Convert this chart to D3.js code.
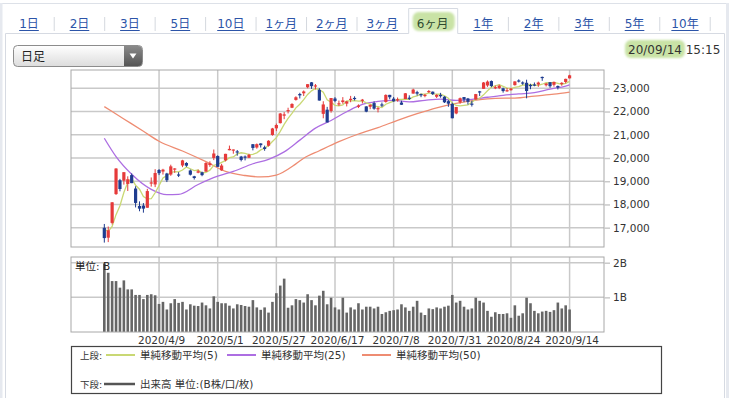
<!DOCTYPE html>
<html>
<head>
<meta charset="utf-8">
<script src="https://cdn.jsdelivr.net/npm/d3@7"></script>
<style>
body { margin: 0; background: #fff; }
svg { display: block; }
</style>
</head>
<body>
<div id="chart"></div>
<script>
const tabLabels = ["1日","2日","3日","5日","10日","1ヶ月","2ヶ月","3ヶ月","6ヶ月","1年","2年","3年","5年","10年"]
const selectedTab = "6ヶ月"
const stamp = "20/09/14"
const stampTime = " 15:15"

const dates = ["3/19","3/23","3/24","3/25","3/26","3/27","3/30","3/31",
"4/1","4/2","4/3","4/6","4/7","4/8","4/9","4/10","4/13","4/14","4/15","4/16","4/17","4/20","4/21","4/22","4/23","4/24","4/27","4/28","4/30",
"5/1","5/7","5/8","5/11","5/12","5/13","5/14","5/15","5/18","5/19","5/20","5/21","5/22","5/25","5/26","5/27","5/28","5/29",
"6/1","6/2","6/3","6/4","6/5","6/8","6/9","6/10","6/11","6/12","6/15","6/16","6/17","6/18","6/19","6/22","6/23","6/24","6/25","6/26","6/29","6/30",
"7/1","7/2","7/3","7/6","7/7","7/8","7/9","7/10","7/13","7/14","7/15","7/16","7/17","7/20","7/21","7/22","7/27","7/28","7/29","7/30","7/31",
"8/3","8/4","8/5","8/6","8/7","8/11","8/12","8/13","8/14","8/17","8/18","8/19","8/20","8/21","8/24","8/25","8/26","8/27","8/28","8/31",
"9/1","9/2","9/3","9/4","9/7","9/8","9/9","9/10","9/11","9/14"]

const open = [16995,16570,17206,18446,19044,19021,18884,19264,18686,17935,
17951,17858,18938,18861,19483,19416,19332,19287,19527,19291,
19677,19785,19464,19213,19367,19384,19412,19696,20002,20087,
19468,19897,20333,20314,20285,20061,20064,20009,20593,20451,
20627,20460,20528,20990,21277,21500,21821,22024,22163,22500,
22754,22785,23044,23258,23100,22933,21900,22080,22023,22560,
22344,22408,22339,22534,22587,22200,22485,22221,22206,22364,
22132,22307,22413,22718,22555,22511,22388,22537,22596,22773,
22834,22752,22665,22881,22855,22635,22715,22639,22447,22330,
21917,22396,22623,22563,22342,22514,22869,22977,23121,23312,
23049,23013,22999,22918,22918,23136,23339,23253,23238,23142,
23166,23161,23490,23132,23263,23150,23099,23184,23273,23428]

const high = [17160,17050,18100,19564,19100,19389,19211,19336,18784,18132,
18059,18672,19162,19518,19525,19534,19360,19711,19560,19389,
19922,19820,19504,19232,19500,19412,19818,19857,20365,20115,
19749,20179,20534,20366,20344,20090,20108,20183,20600,20625,
20632,20532,20765,21296,21481,21938,21976,22164,22357,22657,
22807,22907,23178,23270,23185,23008,22443,22200,22582,22620,
22472,22620,22451,22674,22655,22310,22541,22227,22305,22437,
22198,22387,22741,22719,22627,22603,22466,22796,22698,22983,
22893,22769,22766,22928,22863,22745,22804,22661,22494,22380,
22201,22603,22624,22584,22465,22758,22888,23272,23338,23338,
23120,23156,23026,23014,23014,23300,23386,23298,23370,23192,
23250,23287,23505,23226,23263,23288,23121,23262,23414,23582]

const low = [16358,16378,17140,18410,18565,18853,18578,18917,17872,17707,
17646,17858,18768,18746,19263,19287,18963,19233,19361,19180,
19606,19617,19247,19072,19343,19215,19412,19619,19908,19619,
19448,19855,20333,20184,20099,19853,19897,19996,20328,20400,
20450,20311,20491,20959,21158,21486,21670,21919,22148,22470,
22563,22667,23000,22975,22951,22472,21709,21530,21951,22404,
22239,22334,22220,22400,22477,22150,22350,21970,22100,22078,
21963,22196,22381,22528,22420,22427,22285,22537,22500,22772,
22686,22618,22613,22803,22712,22583,22595,22366,22203,21710,
21883,22339,22404,22300,22215,22514,22670,22977,23061,23049,
22964,22965,22812,22847,22901,23118,23251,23150,22569,22960,
23088,23063,23322,23079,23023,23072,22950,23109,23212,23427]

const close = [16552,16887,18092,19546,18665,19389,19085,18917,18065,17819,
17820,18576,18950,19353,19346,19499,19043,19639,19550,19290,
19897,19669,19281,19138,19429,19262,19783,19771,20194,19619,
19675,20179,20391,20366,20267,19915,20037,20134,20433,20595,
20552,20388,20742,21271,21419,21916,21878,22062,22326,22614,
22696,22864,23178,23091,23125,22473,22305,21531,22582,22456,
22355,22479,22437,22549,22534,22260,22512,21995,22288,22122,
22146,22306,22714,22615,22439,22529,22291,22785,22587,22946,
22770,22696,22717,22884,22752,22716,22657,22397,22339,21710,
22195,22574,22515,22418,22330,22750,22844,23250,23289,23097,
23051,23111,22881,22920,22986,23297,23291,23209,22883,23140,
23138,23247,23466,23205,23090,23274,23033,23235,23406,23559]

// 出来高 (B)
const volume = [1.98,1.71,1.47,1.47,1.28,1.49,1.23,1.23,1.07,1.07,
0.95,1.07,1.09,1.06,0.81,0.87,0.65,0.83,0.95,0.84,
0.87,0.65,0.80,0.76,0.75,0.85,0.77,0.68,1.03,0.87,
0.83,0.83,0.76,0.68,0.80,0.78,0.75,0.73,0.92,0.71,
0.64,0.71,0.56,0.87,1.12,1.34,1.54,0.70,0.77,0.95,
0.92,0.85,1.09,0.92,0.77,1.05,1.19,0.80,0.99,0.71,
0.65,0.99,0.56,0.71,0.65,0.83,0.65,0.73,0.73,0.68,
0.73,0.52,0.57,0.61,0.63,0.65,0.80,0.71,0.61,0.73,
0.90,0.56,0.49,0.68,0.66,0.71,0.68,0.73,0.76,1.07,
0.85,0.90,0.73,0.65,0.68,0.99,0.90,0.85,0.61,0.44,
0.57,0.52,0.52,0.54,0.41,0.77,0.47,0.54,0.99,0.83,
0.61,0.54,0.59,0.61,0.58,0.63,0.85,0.68,0.77,0.65]

const sma5 = [16944,16836,17054,17561,17948,18516,18955,19120,18824,18655,
18341,18239,18246,18504,18809,19145,19238,19376,19415,19404,
19484,19609,19537,19455,19483,19356,19379,19477,19688,19726,
19808,19888,20012,20046,20176,20224,20195,20144,20157,20223,
20350,20420,20542,20710,20874,21147,21445,21709,21920,22159,
22315,22512,22736,22889,22991,22946,22834,22505,22403,22269,
22246,22281,22462,22455,22471,22452,22458,22370,22318,22235,
22213,22171,22315,22381,22444,22521,22518,22532,22526,22628,
22676,22757,22743,22803,22764,22753,22745,22681,22572,22364,
22260,22243,22267,22282,22406,22517,22571,22718,22893,23046,
23106,23160,23086,23012,22990,23039,23075,23141,23133,23164,
23132,23123,23175,23239,23229,23256,23214,23167,23208,23301]

// [day index, value]
const sma25 = [[0,20850],[3,20060],[7,19300],[12,18650],[16,18420],[19,18433],[24,18860],
[29,19215],[33,19422],[38,19752],[42,19942],[46,20265],[50,20769],[54,21285],[58,21616],
[62,21991],[66,22306],[70,22434],[74,22482],[78,22417],[82,22484],[86,22530],[90,22484],
[94,22521],[98,22615],[102,22699],[106,22759],[110,22811],[114,22967],[118,23097],[119,23146]]

const sma50 = [[0,22210],[5,21680],[10,21150],[14,20720],[20,20300],[26,19840],[31,19420],
[36,19246],[40,19183],[44,19265],[49,19746],[51,19988],[55,20312],[60,20702],[65,21033],
[70,21306],[75,21622],[80,21909],[85,22162],[90,22353],[95,22490],[100,22569],[105,22578],
[110,22667],[115,22747],[119,22834]]

const dateTicks = [14,29,44,59,74,89,104,119]
const priceTicks = [17000,18000,19000,20000,21000,22000,23000]
const volTicks = [1,2]

const legendTop = [
    {label: "単純移動平均(5)", color: "#c9d874", x: 106},
    {label: "単純移動平均(25)", color: "#ad6ee2", x: 227},
    {label: "単純移動平均(50)", color: "#ee8c72", x: 362}
]

const FONT = "'DejaVu Sans', 'Noto Sans CJK JP', sans-serif"
const UP = "#e63a3a", DOWN = "#1f3c8f"

var svg = d3.select("#chart").append("svg")
    .attr("width", 740)
    .attr("height", 398)
    .style("font-family", FONT)

var defs = svg.append("defs")
defs.append("filter").attr("id", "soft")
    .append("feGaussianBlur").attr("stdDeviation", 1.2)
var ddGrad = defs.append("linearGradient").attr("id", "ddGrad")
    .attr("x1", 0).attr("y1", 0).attr("x2", 0).attr("y2", 1)
ddGrad.append("stop").attr("offset", "0%").attr("stop-color", "#ffffff")
ddGrad.append("stop").attr("offset", "100%").attr("stop-color", "#dcdcdc")
var btnGrad = defs.append("linearGradient").attr("id", "btnGrad")
    .attr("x1", 0).attr("y1", 0).attr("x2", 0).attr("y2", 1)
btnGrad.append("stop").attr("offset", "0%").attr("stop-color", "#8a8a8a")
btnGrad.append("stop").attr("offset", "100%").attr("stop-color", "#555")

// outer frame + tab row
svg.append("line").attr("x1", 0).attr("x2", 729).attr("y1", 3.5).attr("y2", 3.5)
    .attr("stroke", "#dde1e8")
svg.append("rect").attr("x", 0).attr("y", 3).attr("width", 2.5).attr("height", 395).attr("fill", "#e6e9ef")
svg.append("rect").attr("x", 726).attr("y", 3).attr("width", 3).attr("height", 395).attr("fill", "#e6e9ef")

const tabX = d3.scalePoint().domain(tabLabels).range([29, 685])
const selX = tabX(selectedTab)

svg.append("path")
    .attr("d", `M5.5,398 V33.5 H${selX - 24} V8.5 H${selX + 25} V33.5 H724.5 V398`)
    .attr("fill", "none")
    .attr("stroke", "#d6dae2")

svg.append("rect")
    .attr("x", selX - 20).attr("y", 12).attr("width", 42).attr("height", 19).attr("rx", 6)
    .attr("fill", "#c9e3a6")
    .attr("filter", "url(#soft)")

var tabs = svg.append("g")
tabLabels.forEach(function(t, k) {
    var sel = t == selectedTab
    var tx = tabs.append("text")
        .attr("x", tabX(t))
        .attr("y", 28)
        .attr("text-anchor", "middle")
        .style("font-size", "12px")
        .attr("fill", sel ? "#2f4a2f" : "#2c54a8")
        .text(t)
    if (!sel) {
        var w = tx.node().getComputedTextLength()
        tabs.append("line")
            .attr("x1", tabX(t) - w / 2).attr("x2", tabX(t) + w / 2)
            .attr("y1", 30.5).attr("y2", 30.5)
            .attr("stroke", "#2c54a8")
    }
    var sx = tabX(t) + tabX.step() / 2
    if (t != selectedTab && tabLabels[k + 1] != selectedTab) {
        tabs.append("line")
            .attr("x1", sx).attr("x2", sx).attr("y1", 17).attr("y2", 31)
            .attr("stroke", "#d4d8de")
    }
})

// dropdown
svg.append("rect")
    .attr("x", 13.5).attr("y", 45.5).attr("width", 129).attr("height", 21).attr("rx", 4)
    .attr("fill", "url(#ddGrad)").attr("stroke", "#8c8c8c")
svg.append("path")
    .attr("d", "M124,46 H138.5 A3.5,3.5 0 0 1 142,49.5 V62.5 A3.5,3.5 0 0 1 138.5,66 H124 Z")
    .attr("fill", "url(#btnGrad)")
svg.append("path")
    .attr("d", "M129.5,53.5 L136.5,53.5 L133,58.5 Z")
    .attr("fill", "#fff")
svg.append("text").attr("x", 21).attr("y", 60.5)
    .style("font-size", "12px").attr("fill", "#222").text("日足")

// time stamp
svg.append("rect")
    .attr("x", 625).attr("y", 40).attr("width", 60).attr("height", 18).attr("rx", 6)
    .attr("fill", "#c9e3a6").attr("filter", "url(#soft)")
svg.append("text").attr("x", 628).attr("y", 53.5)
    .style("font-size", "12px").attr("fill", "#333")
    .text(stamp + stampTime)

// scales
const x = d3.scaleLinear().domain([-8.52, 127.8]).range([71, 604])
const y = d3.scaleLinear().domain([16168, 23788]).range([247, 70])
const yv = d3.scaleLinear().domain([0, 2.165]).range([332, 257])
const idx = d3.range(dates.length)

const GRID = "#c9c9c9", BORDER = "#a8a8a8"

// price panel
var price = svg.append("g")
price.selectAll(".hg").data(priceTicks).join("line")
    .attr("x1", 71).attr("x2", 604)
    .attr("y1", d => y(d)).attr("y2", d => y(d))
    .attr("stroke", GRID).attr("stroke-width", 1.5)
price.selectAll(".vg").data(dateTicks).join("line")
    .attr("x1", d => x(d)).attr("x2", d => x(d))
    .attr("y1", 70).attr("y2", 247)
    .attr("stroke", GRID).attr("stroke-width", 1.5)
price.append("rect")
    .attr("x", 71).attr("y", 70).attr("width", 533).attr("height", 177)
    .attr("fill", "none").attr("stroke", BORDER)

var yAxis = price.append("g")
    .attr("transform", "translate(604,0)")
    .call(d3.axisRight(y).tickValues(priceTicks).tickSize(6).tickPadding(3).tickFormat(d3.format(",")))
yAxis.select(".domain").remove()
yAxis.selectAll("line").attr("stroke", GRID).attr("stroke-width", 1.5)
yAxis.selectAll("text").attr("fill", "#333").style("font-size", "10.5px").style("font-family", FONT)

var lineMA = d3.line().x(d => x(d[0])).y(d => y(d[1]))
price.append("path")
    .datum(sma50)
    .attr("d", lineMA.curve(d3.curveMonotoneX))
    .attr("fill", "none").attr("stroke", "#ee8c72").attr("stroke-width", 1.3)
price.append("path")
    .datum(sma25)
    .attr("d", lineMA.curve(d3.curveMonotoneX))
    .attr("fill", "none").attr("stroke", "#ad6ee2").attr("stroke-width", 1.3)
price.append("path")
    .datum(sma5.map((v, i) => [i, v]))
    .attr("d", lineMA.curve(d3.curveLinear))
    .attr("fill", "none").attr("stroke", "#c9d874").attr("stroke-width", 1.3)

var candles = price.selectAll(".candle").data(idx).join("g")
candles.append("line")
    .attr("x1", i => x(i)).attr("x2", i => x(i))
    .attr("y1", i => y(high[i])).attr("y2", i => y(low[i]))
    .attr("stroke", i => close[i] >= open[i] ? UP : DOWN)
candles.append("rect")
    .attr("x", i => x(i) - 1.6)
    .attr("width", 3.2)
    .attr("y", i => y(Math.max(open[i], close[i])))
    .attr("height", i => Math.max(1.2, Math.abs(y(open[i]) - y(close[i]))))
    .attr("fill", i => close[i] >= open[i] ? UP : DOWN)

// volume panel
var volG = svg.append("g")
volG.selectAll(".hg").data(volTicks).join("line")
    .attr("x1", 71).attr("x2", 604)
    .attr("y1", d => yv(d)).attr("y2", d => yv(d))
    .attr("stroke", GRID).attr("stroke-width", 1.5)
volG.selectAll(".vg").data(dateTicks).join("line")
    .attr("x1", d => x(d)).attr("x2", d => x(d))
    .attr("y1", 257).attr("y2", 332)
    .attr("stroke", GRID).attr("stroke-width", 1.5)
volG.selectAll(".bar").data(idx).join("rect")
    .attr("x", i => x(i) - 1.3)
    .attr("width", 2.6)
    .attr("y", i => yv(volume[i]))
    .attr("height", i => yv(0) - yv(volume[i]))
    .attr("fill", "#666")
volG.append("rect")
    .attr("x", 71).attr("y", 257).attr("width", 533).attr("height", 75)
    .attr("fill", "none").attr("stroke", BORDER)

var vAxis = volG.append("g")
    .attr("transform", "translate(604,0)")
    .call(d3.axisRight(yv).tickValues(volTicks).tickSize(6).tickPadding(3).tickFormat(d => d + "B"))
vAxis.select(".domain").remove()
vAxis.selectAll("line").attr("stroke", GRID).attr("stroke-width", 1.5)
vAxis.selectAll("text").attr("fill", "#333").style("font-size", "10.5px").style("font-family", FONT)

volG.append("text").attr("x", 75).attr("y", 270)
    .style("font-size", "10.5px").attr("fill", "#222").text("単位: B")

var xAxis = svg.append("g")
    .attr("transform", "translate(0,332)")
    .call(d3.axisBottom(x).tickValues(dateTicks).tickSize(0).tickPadding(5)
        .tickFormat(i => "2020/" + dates[i]))
xAxis.select(".domain").remove()
xAxis.selectAll("text").attr("fill", "#333").attr("dx", 2)
    .style("font-size", "10.5px").style("font-family", FONT)

// legend
var legend = svg.append("g")
legend.append("rect")
    .attr("x", 71.5).attr("y", 346.5).attr("width", 590).attr("height", 47)
    .attr("fill", "#fff").attr("stroke", "#444").attr("stroke-width", 1.2)
legend.append("text").attr("x", 80).attr("y", 359)
    .style("font-size", "9.5px").attr("fill", "#333").text("上段:")
legendTop.forEach(function(d) {
    legend.append("line")
        .attr("x1", d.x).attr("x2", d.x + 29).attr("y1", 355).attr("y2", 355)
        .attr("stroke", d.color).attr("stroke-width", 2)
    legend.append("text").attr("x", d.x + 34).attr("y", 359)
        .style("font-size", "10.5px").attr("fill", "#333").text(d.label)
})
legend.append("text").attr("x", 80).attr("y", 388)
    .style("font-size", "9.5px").attr("fill", "#333").text("下段:")
legend.append("line")
    .attr("x1", 104).attr("x2", 135).attr("y1", 384).attr("y2", 384)
    .attr("stroke", "#555").attr("stroke-width", 2.5)
legend.append("text").attr("x", 140).attr("y", 388)
    .style("font-size", "10.5px").attr("fill", "#333").text("出来高 単位:(B株/口/枚)")
</script>
</body>
</html>
